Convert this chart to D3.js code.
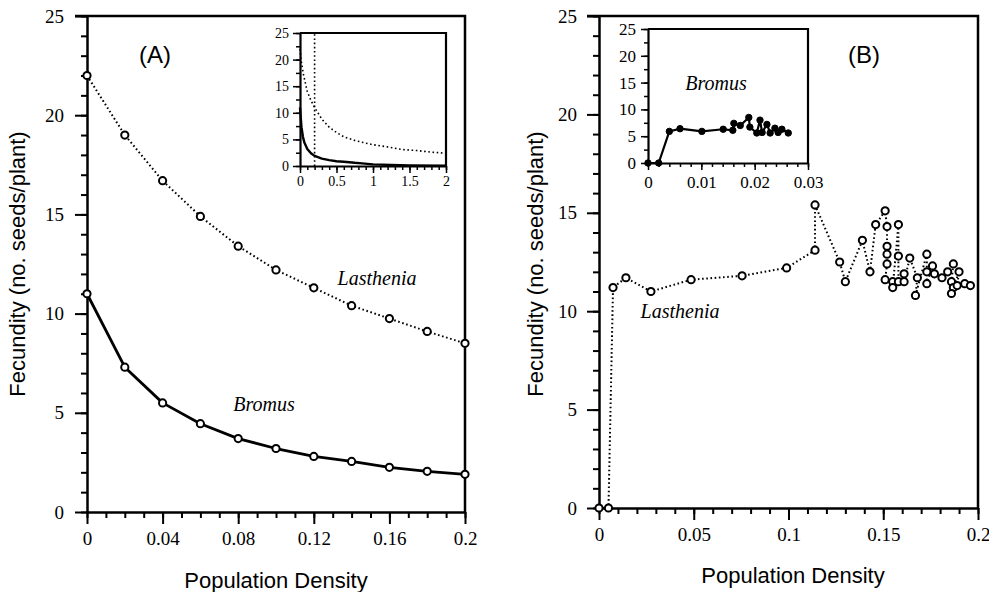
<!DOCTYPE html>
<html>
<head>
<meta charset="utf-8">
<script src="https://d3js.org/d3.v7.min.js"></script>
<style>
  body { margin: 0; background: white; }
  svg { display: block; }
  .tick text { font-family: "Liberation Serif", "Times New Roman", serif; fill: black; }
  .tick line { stroke: black; }
  .domain { stroke: black; }
</style>
</head>
<body>
<svg width="989" height="592"></svg>
<script>
// ---- data ----
// panel A, main plot
var densityA = [0, 0.02, 0.04, 0.06, 0.08, 0.1, 0.12, 0.14, 0.16, 0.18, 0.2];
var lastheniaA = [22, 19, 16.7, 14.9, 13.4, 12.2, 11.3, 10.4, 9.75, 9.1, 8.5];
var bromusA = [11, 7.3, 5.5, 4.45, 3.7, 3.2, 2.8, 2.55, 2.25, 2.05, 1.9];

// panel A, inset (wider density range)
var insetDensityL = [0, 0.02, 0.05, 0.1, 0.15, 0.2, 0.3, 0.4, 0.5, 0.6, 0.75, 0.9, 1.0, 1.2, 1.4, 1.6, 1.8, 2.0];
var insetLasthenia = [22, 19.5, 17, 14, 12.3, 11, 8.8, 7.3, 6.3, 5.5, 4.8, 4.3, 4.0, 3.6, 3.1, 2.9, 2.6, 2.4];
var insetDensityB = [0, 0.02, 0.04, 0.06, 0.1, 0.15, 0.2, 0.3, 0.4, 0.5, 0.6, 0.75, 0.85, 1.0, 1.5, 2.0];
var insetBromus = [11, 7.3, 5.5, 4.4, 3.2, 2.4, 1.9, 1.4, 1.1, 0.9, 0.8, 0.6, 0.5, 0.3, 0.1, 0.05];
var insetMarker = 0.2;

// panel B, main plot (Lasthenia), [density, fecundity]
var lastheniaB = [
  [0, 0], [0.005, 0], [0.0074, 11.2], [0.0142, 11.7], [0.0274, 11.0], [0.0486, 11.6],
  [0.0755, 11.8], [0.099, 12.2], [0.114, 13.1], [0.114, 15.4], [0.127, 12.5], [0.130, 11.5],
  [0.139, 13.6], [0.143, 12.0], [0.146, 14.4], [0.151, 15.1], [0.152, 14.3], [0.152, 13.3],
  [0.152, 12.9], [0.152, 12.4], [0.151, 11.6], [0.155, 11.5], [0.155, 11.2], [0.158, 14.4],
  [0.158, 12.8], [0.158, 11.5], [0.161, 11.9], [0.161, 11.5], [0.164, 12.7], [0.168, 11.7],
  [0.167, 10.8], [0.173, 12.9], [0.173, 12.0], [0.173, 11.4], [0.176, 12.3], [0.177, 11.9],
  [0.181, 11.7], [0.184, 12.0], [0.187, 12.4], [0.186, 11.5], [0.187, 11.2], [0.186, 10.9],
  [0.190, 12.0], [0.189, 11.3], [0.193, 11.4], [0.196, 11.3]
];

// panel B, inset (Bromus), [density, fecundity]
var bromusB = [
  [0, 0], [0.002, 0], [0.004, 5.9], [0.006, 6.4], [0.0101, 5.9], [0.0141, 6.3], [0.0159, 6.1],
  [0.0161, 7.4], [0.0173, 7.0], [0.0189, 8.5], [0.0191, 6.7], [0.0204, 5.6], [0.021, 8.0],
  [0.0214, 5.7], [0.0223, 7.2], [0.0229, 5.6], [0.0238, 6.5], [0.0244, 5.7], [0.0251, 6.3],
  [0.0263, 5.6]
];

var ticksMainY = [0, 5, 10, 15, 20, 25];
var ticksAX = [0, 0.04, 0.08, 0.12, 0.16, 0.2];
var ticksBX = [0, 0.05, 0.1, 0.15, 0.2];
var ticksInsetAX = [0, 0.5, 1, 1.5, 2];
var ticksInsetBX = [0, 0.01, 0.02, 0.03];

var svg = d3.select("svg");

// draws a framed set of axes and returns the scales
function frame(x0, x1, y0, y1, xdom, ydom, o) {
  var xs = d3.scaleLinear().domain(xdom).range([x0, x1]);
  var ys = d3.scaleLinear().domain(ydom).range([y0, y1]);
  var g = svg.append("g");

  // minor ticks first
  g.append("g").attr("transform", "translate(0," + y0 + ")")
    .call(d3.axisBottom(xs).tickValues(d3.range(xdom[0], xdom[1] + 1e-9, o.xminor)).tickSize(o.minor).tickFormat(""))
    .call(function(a) { a.select(".domain").remove(); a.selectAll("line").attr("stroke-width", o.tw); });
  g.append("g").attr("transform", "translate(" + x0 + ",0)")
    .call(d3.axisLeft(ys).tickValues(d3.range(ydom[0], ydom[1] + 1e-9, o.yminor)).tickSize(o.minor).tickFormat(""))
    .call(function(a) { a.select(".domain").remove(); a.selectAll("line").attr("stroke-width", o.tw); });

  // major ticks with labels
  g.append("g").attr("transform", "translate(0," + y0 + ")")
    .call(d3.axisBottom(xs).tickValues(o.xticks).tickSize(o.major).tickPadding(o.xpad).tickSizeOuter(0)
      .tickFormat(function(d) { return d3.format("~g")(d); }))
    .call(function(a) {
      a.select(".domain").attr("stroke-width", o.dw);
      a.selectAll("line").attr("stroke-width", o.tw);
      a.selectAll("text").style("font-size", o.fs + "px");
    });
  g.append("g").attr("transform", "translate(" + x0 + ",0)")
    .call(d3.axisLeft(ys).tickValues(o.yticks).tickSize(o.major).tickPadding(o.ypad).tickSizeOuter(0))
    .call(function(a) {
      a.select(".domain").attr("stroke-width", o.dw);
      a.selectAll("line").attr("stroke-width", o.tw);
      a.selectAll("text").style("font-size", o.fs + "px");
    });

  // top and right edges of the box
  g.append("path")
    .attr("d", "M" + (x0 - o.topExt) + "," + y1 + "H" + x1 + "V" + y0)
    .attr("fill", "none").attr("stroke", "black").attr("stroke-width", o.dw);
  return { x: xs, y: ys };
}

function series(sc, pts, dashed, width) {
  svg.append("path")
    .datum(pts)
    .attr("fill", "none")
    .attr("stroke", "black")
    .attr("stroke-width", width)
    .attr("stroke-dasharray", dashed ? "1.6,2.6" : null)
    .attr("stroke-linejoin", "round")
    .attr("d", d3.line().x(function(d) { return sc.x(d[0]); }).y(function(d) { return sc.y(d[1]); }));
}

function markers(sc, pts, r, filled) {
  svg.append("g").selectAll("circle")
    .data(pts).enter().append("circle")
    .attr("cx", function(d) { return sc.x(d[0]); })
    .attr("cy", function(d) { return sc.y(d[1]); })
    .attr("r", r)
    .attr("fill", filled ? "black" : "white")
    .attr("stroke", "black")
    .attr("stroke-width", filled ? 1 : 2);
}

function label(x, y, txt, size, italic, serif, rot) {
  var t = svg.append("text")
    .attr("x", x).attr("y", y)
    .attr("text-anchor", "middle")
    .style("font-family", serif ? "'Liberation Serif', serif" : "'Liberation Sans', Arial, sans-serif")
    .style("font-size", size + "px")
    .style("font-style", italic ? "italic" : "normal")
    .text(txt);
  if (rot) t.attr("transform", "rotate(-90," + x + "," + y + ")");
}

var mainOpts = { xminor: 0.01, yminor: 1, minor: 6, major: 12, tw: 2, dw: 2.5, fs: 19, xpad: 8, ypad: 11, topExt: 12 };

// ---------- panel A ----------
var scA = frame(87, 465, 512, 16, [0, 0.2], [0, 25],
  Object.assign({}, mainOpts, { xticks: ticksAX, yticks: ticksMainY }));
var lastA = densityA.map(function(d, i) { return [d, lastheniaA[i]]; });
var bromA = densityA.map(function(d, i) { return [d, bromusA[i]]; });
series(scA, lastA, true, 2);
series(scA, bromA, false, 2.8);
markers(scA, lastA, 3.6, false);
markers(scA, bromA, 3.6, false);

label(155, 63, "(A)", 24, false, false);
label(377, 285, "Lasthenia", 20, true, true);
label(264, 411, "Bromus", 20, true, true);
label(276, 588, "Population Density", 22, false, false);
label(25, 264, "Fecundity  (no.  seeds/plant)", 22, false, false, true);

// inset A
var insetOpts = { xminor: 0.1, yminor: 2.5, minor: 4, major: 7, tw: 1.5, dw: 2.2, fs: 14, xpad: 3, ypad: 4, topExt: 0 };
var scAi = frame(300, 446, 166, 33, [0, 2], [0, 25],
  Object.assign({}, insetOpts, { xticks: ticksInsetAX, yticks: ticksMainY }));
series(scAi, [[insetMarker, 0], [insetMarker, 25]], true, 1.6);
series(scAi, insetDensityL.map(function(d, i) { return [d, insetLasthenia[i]]; }), true, 1.6);
series(scAi, insetDensityB.map(function(d, i) { return [d, insetBromus[i]]; }), false, 2.4);

// ---------- panel B ----------
var scB = frame(599, 978, 508, 16, [0, 0.2], [0, 25],
  Object.assign({}, mainOpts, { xticks: ticksBX, yticks: ticksMainY, ypad: 10 }));
series(scB, lastheniaB, true, 2);
markers(scB, lastheniaB, 3.6, false);

label(864, 63, "(B)", 24, false, false);
label(680, 318, "Lasthenia", 20, true, true);
label(793, 583, "Population Density", 22, false, false);
label(543, 264, "Fecundity  (no.  seeds/plant)", 22, false, false, true);

// inset B
var scBi = frame(648, 808, 163, 29, [0, 0.03], [0, 25],
  Object.assign({}, insetOpts, { xminor: 0.002, fs: 17, xpad: 6, ypad: 5, xticks: ticksInsetBX, yticks: ticksMainY }));
series(scBi, bromusB, false, 2.2);
markers(scBi, bromusB, 3.2, true);
label(716, 90, "Bromus", 20, true, true);
</script>
</body>
</html>
